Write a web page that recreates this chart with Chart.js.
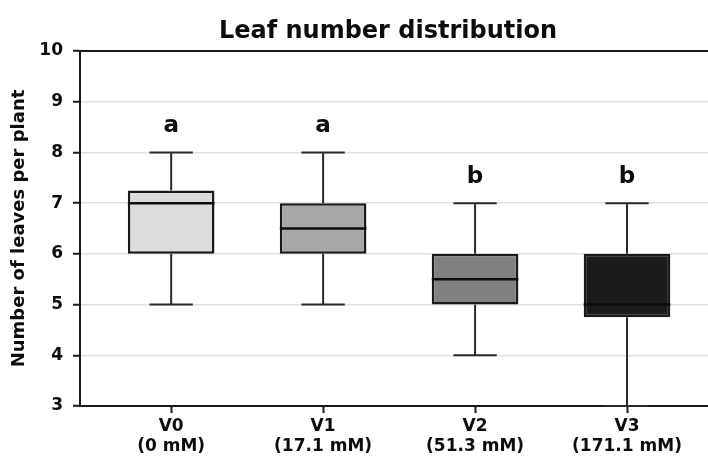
<!DOCTYPE html>
<html lang="en">
<head>
    <meta charset="UTF-8">
    <title>Leaf number distribution</title>
    <script src="https://cdn.jsdelivr.net/npm/chart.js"></script>
    <style>
        html, body { margin: 0; padding: 0; background: #fff; overflow: hidden; }
        #wrap { width: 708px; height: 457px; }
    </style>
</head>
<body>
    <div id="wrap"><canvas id="boxChart" width="708" height="457"></canvas></div>

    <script>
        // chart values
        var categories = [["V0", "(0 mM)"], ["V1", "(17.1 mM)"], ["V2", "(51.3 mM)"], ["V3", "(171.1 mM)"]];
        var whiskerLow = [5, 5, 4, 3];
        var q1 = [6, 6, 5, 4.75];
        var medians = [7, 6.5, 5.5, 5];
        var q3 = [7.25, 7, 6, 6];
        var whiskerHigh = [8, 8, 7, 7];
        var letters = ["a", "a", "b", "b"];
        var yTicks = [3, 4, 5, 6, 7, 8, 9, 10];

        var boxColors = ["#dcdcdc", "#a8a8a8", "#808080", "#1c1c1c"];
        var fontFamily = "'DejaVu Sans', sans-serif";

        var boxes = categories.map(function (c, i) {
            return { x: i, y: [q1[i], q3[i]] };
        });

        // whiskers, caps, medians, letters and title
        var boxPlotPlugin = {
            id: 'boxPlot',
            afterDatasetsDraw: function (chart) {
                var ctx = chart.ctx;
                var xs = chart.scales.x;
                var ys = chart.scales.y;
                var meta = chart.getDatasetMeta(0);
                ctx.save();
                meta.data.forEach(function (bar, i) {
                    var cx = xs.getPixelForValue(i);
                    var half = bar.width / 2;
                    var capHalf = bar.width / 4;
                    var yLo = ys.getPixelForValue(whiskerLow[i]);
                    var yHi = ys.getPixelForValue(whiskerHigh[i]);
                    var yQ1 = ys.getPixelForValue(q1[i]);
                    var yQ3 = ys.getPixelForValue(q3[i]);
                    var yMed = ys.getPixelForValue(medians[i]);

                    ctx.strokeStyle = "#2a2a2a";
                    ctx.lineWidth = 2;
                    ctx.beginPath();
                    ctx.moveTo(cx, yQ1); ctx.lineTo(cx, yLo);
                    ctx.moveTo(cx, yQ3); ctx.lineTo(cx, yHi);
                    ctx.moveTo(cx - capHalf, yLo); ctx.lineTo(cx + capHalf, yLo);
                    ctx.moveTo(cx - capHalf, yHi); ctx.lineTo(cx + capHalf, yHi);
                    ctx.stroke();

                    ctx.strokeStyle = "#0d0d0d";
                    ctx.lineWidth = 2.5;
                    ctx.beginPath();
                    ctx.moveTo(cx - half, yMed); ctx.lineTo(cx + half, yMed);
                    ctx.stroke();

                    ctx.fillStyle = "#0d0d0d";
                    ctx.font = "bold 23px " + fontFamily;
                    ctx.textAlign = "center";
                    ctx.textBaseline = "alphabetic";
                    ctx.fillText(letters[i], cx, yHi - 20);
                });

                // top spine
                var area = chart.chartArea;
                ctx.strokeStyle = "#1a1a1a";
                ctx.lineWidth = 2;
                ctx.beginPath();
                ctx.moveTo(area.left, area.top);
                ctx.lineTo(area.right, area.top);
                ctx.stroke();

                ctx.fillStyle = "#0d0d0d";
                ctx.font = "bold 24px " + fontFamily;
                ctx.textAlign = "center";
                ctx.textBaseline = "middle";
                ctx.fillText("Leaf number distribution", 388, 32);
                ctx.restore();
            }
        };

        var ctx = document.getElementById("boxChart").getContext("2d");
        var chart = new Chart(ctx, {
            type: 'bar',
            data: {
                datasets: [{
                    data: boxes,
                    backgroundColor: boxColors,
                    borderColor: "#1a1a1a",
                    borderWidth: 2.5,
                    borderSkipped: false,
                    barPercentage: 0.57,
                    categoryPercentage: 1
                }]
            },
            options: {
                responsive: false,
                animation: false,
                layout: { padding: { top: 51, left: 0, right: 0, bottom: 0 } },
                plugins: {
                    legend: { display: false },
                    tooltip: { enabled: false },
                    title: { display: false }
                },
                scales: {
                    x: {
                        type: 'linear',
                        offset: false,
                        min: -0.6,
                        max: 3.533,
                        afterBuildTicks: function (scale) {
                            scale.ticks = categories.map(function (c, i) { return { value: i }; });
                        },
                        afterFit: function (scale) { scale.height = 51; },
                        ticks: {
                            autoSkip: false,
                            maxRotation: 0,
                            padding: 3,
                            color: "#0d0d0d",
                            font: { family: fontFamily, size: 17, weight: 'bold', lineHeight: 1.2 },
                            callback: function (value) { return categories[value]; }
                        },
                        grid: { offset: false, drawOnChartArea: false, drawTicks: true, tickLength: 7, tickColor: "#1a1a1a", tickWidth: 2 },
                        border: { color: "#1a1a1a", width: 2 }
                    },
                    y: {
                        min: 3,
                        max: 10,
                        afterBuildTicks: function (scale) {
                            scale.ticks = yTicks.map(function (v) { return { value: v }; });
                        },
                        afterFit: function (scale) { scale.width = 80; },
                        ticks: {
                            padding: 10,
                            color: "#0d0d0d",
                            font: { family: fontFamily, size: 17, weight: 'bold' }
                        },
                        grid: { color: "#e2e2e2", lineWidth: 1.5, tickLength: 7, tickColor: "#1a1a1a", tickWidth: 2 },
                        border: { color: "#1a1a1a", width: 2 },
                        title: {
                            display: true,
                            text: "Number of leaves per plant",
                            color: "#0d0d0d",
                            font: { family: fontFamily, size: 18, weight: 'bold' },
                            padding: { top: 9, bottom: 0 }
                        }
                    }
                }
            },
            plugins: [boxPlotPlugin]
        });
    </script>
</body>
</html>
